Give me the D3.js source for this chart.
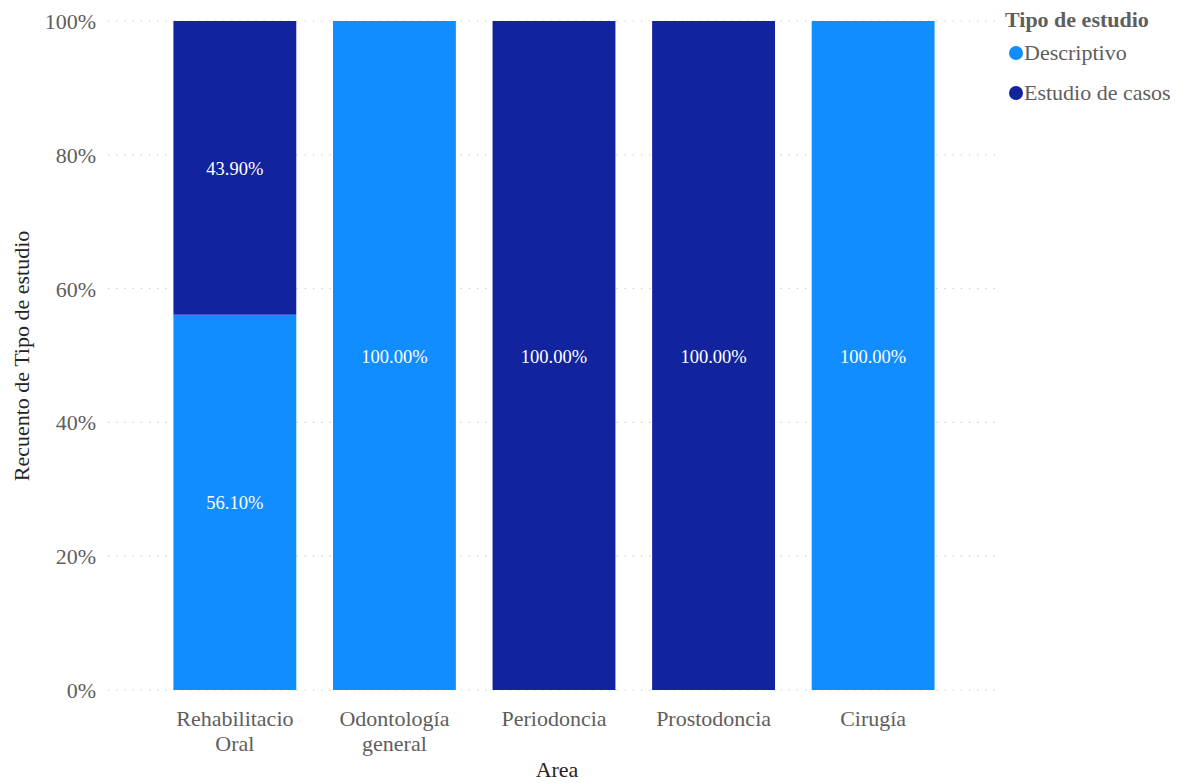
<!DOCTYPE html>
<html><head><meta charset="utf-8">
<script src="https://cdn.jsdelivr.net/npm/d3@7"></script>
<style>body{margin:0;background:#fff;} svg{display:block;font-family:"Liberation Serif","Times New Roman",serif;}</style>
</head><body>
<script>
const categories = ["Rehabilitacio Oral", "Odontología general", "Periodoncia", "Prostodoncia", "Cirugía"];
const categoryLines = [["Rehabilitacio","Oral"],["Odontología","general"],["Periodoncia"],["Prostodoncia"],["Cirugía"]];
const seriesNames = ["Descriptivo", "Estudio de casos"];
const descriptivo = [56.10, 100, 0, 0, 100];
const estudioCasos = [43.90, 0, 100, 100, 0];
const yTicks = [0, 20, 40, 60, 80, 100];
const colors = ["#118DFF", "#12239E"];

const W = 1183, H = 783;
const svg = d3.select("body").append("svg").attr("width", W).attr("height", H);
const x = d3.scaleBand().domain(categories).range([108, 1000]).paddingInner(0.23).paddingOuter(0.41);
const y = d3.scaleLinear().domain([0, 100]).range([690, 21]);

// gridlines
svg.append("g").selectAll("line").data(yTicks).join("line")
  .attr("x1", 108).attr("x2", 1000).attr("y1", d => y(d)).attr("y2", d => y(d))
  .attr("stroke", "#c8c8c8").attr("stroke-width", 1.2).attr("stroke-dasharray", "1.2,7");

// y axis labels
const yAxis = d3.axisLeft(y).tickValues(yTicks).tickFormat(d => d + "%").tickSize(0).tickPadding(0);
const gy = svg.append("g").attr("transform", "translate(96,0)").call(yAxis);
gy.select(".domain").remove();
gy.selectAll("text").attr("fill", "#605E5C").attr("dy", "0.34em").style("font-size", "22px").style("font-family", "Liberation Serif");

const data = categories.map((c, i) => ({cat: c, vals: [descriptivo[i], estudioCasos[i]]}));
const stacked = d3.stack().keys([0, 1]).value((d, k) => d.vals[k])(data);

stacked.forEach((layer, si) => {
  const g = svg.append("g");
  g.selectAll("rect").data(layer).join("rect")
    .attr("x", d => x(d.data.cat)).attr("width", x.bandwidth())
    .attr("y", d => y(d[1])).attr("height", d => y(d[0]) - y(d[1]))
    .attr("fill", colors[si]);
  g.selectAll("text").data(layer.filter(d => d[1] - d[0] > 0)).join("text")
    .attr("x", d => x(d.data.cat) + x.bandwidth() / 2)
    .attr("y", d => (y(d[0]) + y(d[1])) / 2 + 7)
    .attr("text-anchor", "middle").attr("fill", "#fff").style("font-size", "18.5px")
    .text(d => (d[1] - d[0]).toFixed(2) + "%");
});

// x axis labels
const gx = svg.append("g");
categories.forEach((c, i) => {
  const t = gx.append("text").attr("x", x(c) + x.bandwidth() / 2).attr("y", 726)
    .attr("text-anchor", "middle").attr("fill", "#605E5C").style("font-size", "22px");
  categoryLines[i].forEach((ln, j) => t.append("tspan").attr("x", x(c) + x.bandwidth() / 2).attr("dy", j === 0 ? 0 : 25).text(ln));
});

// axis titles
svg.append("text").attr("x", 557).attr("y", 777).attr("text-anchor", "middle").attr("fill", "#252423").style("font-size", "22px").text("Area");
svg.append("text").attr("transform", "translate(29,356) rotate(-90)").attr("text-anchor", "middle").attr("fill", "#252423").style("font-size", "22px").text("Recuento de Tipo de estudio");

// legend
const lg = svg.append("g");
lg.append("text").attr("x", 1005).attr("y", 27).attr("fill", "#605E5C").style("font-size", "22px").style("font-weight", "bold").text("Tipo de estudio");
seriesNames.forEach((s, i) => {
  const yy = 53 + i * 40;
  lg.append("circle").attr("cx", 1016).attr("cy", yy).attr("r", 7).attr("fill", colors[i]);
  lg.append("text").attr("x", 1024).attr("y", yy + 7).attr("fill", "#605E5C").style("font-size", "22px").text(s);
});
</script>
</body></html>
